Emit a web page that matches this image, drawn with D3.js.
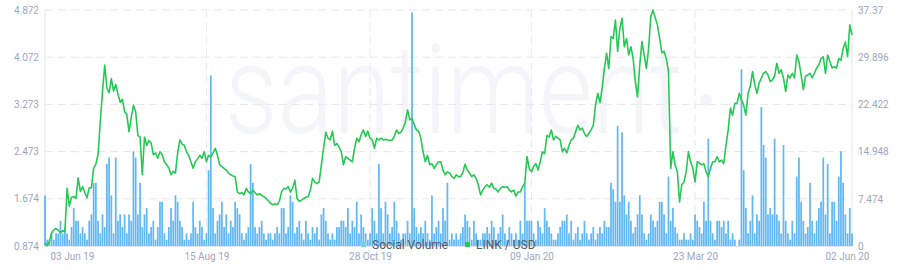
<!DOCTYPE html>
<html>
<head>
<meta charset="utf-8">
<script src="https://cdn.jsdelivr.net/npm/d3@7"></script>
<style>
  body { margin: 0; background: #fff; }
  svg { display: block; font-family: Roboto, "Open Sans", sans-serif; }
</style>
</head>
<body>
<div id="chart"></div>
<script>
// first day of both daily series
const startDate = '2019-06-03';

// LINK / USD, one value per day
const priceValues = [
  0.93,0.88,0.95,1.10,1.15,1.17,1.14,1.10,1.13,1.12,
  1.85,1.55,1.70,1.71,1.68,2.03,1.80,1.88,1.78,1.69,
  1.86,1.86,2.19,2.26,2.42,2.98,3.49,3.94,3.55,3.47,
  3.71,3.50,3.61,3.45,3.31,3.36,3.15,3.10,2.81,3.05,
  3.26,3.15,2.75,2.72,2.08,2.72,2.58,2.66,2.62,2.42,
  2.45,2.36,2.47,2.42,2.30,2.25,2.20,2.08,2.14,2.11,
  2.45,2.67,2.60,2.58,2.47,2.41,2.30,2.19,2.30,2.35,
  2.41,2.36,2.47,2.30,2.41,2.38,2.45,2.53,2.41,2.25,
  2.22,2.19,2.16,2.11,2.08,2.06,2.05,1.79,1.76,1.78,
  1.74,1.85,1.79,1.76,1.82,1.78,1.74,1.76,1.73,1.71,
  1.68,1.64,1.60,1.57,1.59,1.57,1.63,1.79,1.85,1.84,
  1.88,1.79,1.85,1.99,1.68,1.63,1.65,1.68,1.70,1.71,
  1.82,2.02,1.96,1.93,1.96,2.25,2.53,2.80,2.70,2.67,
  2.82,2.58,2.61,2.55,2.47,2.25,2.39,2.36,2.33,2.30,
  2.53,2.70,2.64,2.76,2.84,2.73,2.82,2.70,2.67,2.53,
  2.70,2.67,2.70,2.67,2.68,2.67,2.66,2.67,2.73,2.84,
  2.78,2.80,2.87,2.98,3.18,3.01,3.04,2.93,2.84,2.82,
  2.70,2.47,2.30,2.41,2.25,2.27,2.19,2.25,2.30,2.30,
  2.16,2.08,2.13,2.11,2.05,2.02,2.08,2.05,2.05,2.12,
  2.26,2.16,2.11,2.05,2.08,2.02,1.91,1.74,1.82,1.88,
  1.91,1.87,1.94,1.85,1.84,1.79,1.85,1.88,1.87,1.88,
  1.82,1.79,1.82,1.72,1.79,1.79,1.88,1.94,2.39,2.19,
  2.13,2.22,2.27,2.16,2.30,2.47,2.44,2.75,2.72,2.84,
  2.67,2.73,2.70,2.67,2.47,2.53,2.45,2.58,2.67,2.70,
  2.81,2.92,2.84,2.87,2.78,2.73,2.78,2.84,2.92,3.26,
  3.46,3.30,3.55,3.88,4.14,3.88,4.42,4.39,4.70,4.17,
  4.56,4.73,4.25,4.39,4.11,4.25,4.05,3.66,3.40,3.94,
  4.34,4.11,3.88,4.22,4.76,4.87,4.74,4.62,4.39,4.15,
  4.17,4.05,3.83,2.19,2.47,2.25,2.13,1.62,1.91,1.96,
  2.13,2.47,2.30,2.19,1.96,2.30,2.28,2.25,2.27,2.13,
  2.05,2.19,2.30,2.30,2.39,2.30,2.33,2.27,2.58,2.84,
  3.21,3.09,3.29,3.29,3.46,3.35,3.26,3.09,3.46,3.58,
  3.83,3.61,3.46,3.63,3.72,3.80,3.83,3.77,3.66,3.69,
  3.75,3.97,3.80,3.86,3.72,3.49,3.77,3.72,3.80,3.72,
  4.11,4.00,3.77,3.52,3.75,3.77,3.80,3.72,3.80,3.89,
  3.94,4.05,4.08,3.80,4.11,4.00,3.89,3.91,3.89,4.05,
  4.02,4.22,4.33,4.08,4.62,4.45
];

// Social Volume, one value per day
const volumeValues = [
  8,1,1,2,1,2,2,4,2,3,2,1,3,6,4,4,2,3,2,1,
  4,5,10,10,4,2,5,3,13,14,8,2,14,4,5,3,5,2,5,4,
  15,14,5,10,3,5,6,2,3,4,1,3,7,7,2,1,3,6,4,8,
  7,4,3,1,2,1,2,7,3,2,4,3,1,2,12,27,6,2,4,5,
  7,3,5,2,4,3,7,6,5,2,1,2,3,13,10,3,2,3,4,2,
  1,2,2,1,2,3,2,6,6,2,3,8,7,2,3,4,2,1,4,2,
  1,3,2,3,1,5,6,4,2,1,2,1,3,3,4,4,3,6,2,4,
  3,7,2,5,3,2,1,2,6,4,2,13,6,2,7,5,2,3,7,4,
  2,1,2,2,4,2,37,6,3,2,3,2,4,2,1,8,2,3,4,2,
  6,4,10,1,2,1,2,1,2,3,5,4,3,1,4,2,1,1,2,2,
  3,2,4,3,1,2,3,5,2,1,3,2,1,2,1,4,2,10,4,4,
  4,2,1,4,3,2,6,4,3,2,1,1,2,3,4,4,5,2,4,1,
  2,3,1,2,4,2,1,2,3,1,2,3,2,4,3,3,10,9,7,19,
  7,18,8,5,7,4,2,3,5,8,5,2,1,2,5,4,3,4,7,7,
  5,2,11,4,6,3,2,1,1,2,1,1,2,1,5,4,3,2,7,4,
  17,4,2,1,4,4,3,4,2,4,1,2,1,0,1,28,12,6,2,4,
  8,2,5,4,22,16,14,5,6,5,17,5,4,2,16,4,2,1,4,2,
  11,14,7,4,2,3,10,4,2,4,6,7,14,5,13,2,7,7,4,11,
  15,10,5,2,6,2
];

const xTickLabels = ['03 Jun 19', '15 Aug 19', '28 Oct 19', '09 Jan 20', '23 Mar 20', '02 Jun 20'];
const priceTicks = [4.872, 4.072, 3.273, 2.473, 1.674, 0.874];
const volumeTicks = [37.37, 29.896, 22.422, 14.948, 7.474, 0];
const seriesNames = ['Social Volume', 'LINK / USD'];

const W = 897, H = 270;
const margin = { top: 10, right: 45, bottom: 24, left: 45 };
const innerRight = W - margin.right;
const innerBottom = H - margin.bottom;

const parseDay = d3.utcParse('%Y-%m-%d');
const parseTick = d3.utcParse('%d %b %y');
const day0 = parseDay(startDate);
const dates = priceValues.map((_, i) => d3.utcDay.offset(day0, i));
const tickDates = xTickLabels.map(parseTick);

const svg = d3.select('#chart').append('svg')
  .attr('width', W)
  .attr('height', H);

const x = d3.scaleUtc()
  .domain([dates[0], dates[dates.length - 1]])
  .range([margin.left, innerRight]);
const yPrice = d3.scaleLinear()
  .domain([0.874, 4.872])
  .range([innerBottom, margin.top]);
const yVol = d3.scaleLinear()
  .domain([0, 37.37])
  .range([innerBottom, margin.top]);

// watermark
svg.append('text')
  .attr('x', 225)
  .attr('y', 133)
  .attr('font-size', 125)
  .attr('font-weight', 300)
  .attr('fill', '#f4f5f8')
  .attr('textLength', 458)
  .attr('lengthAdjust', 'spacingAndGlyphs')
  .text('santiment');
svg.append('circle')
  .attr('cx', 706).attr('cy', 100).attr('r', 6)
  .attr('fill', '#f4f5f8');

// grid
const grid = svg.append('g')
  .attr('stroke', '#e6e8ef')
  .attr('stroke-dasharray', '8,5');
grid.selectAll('.h').data(priceTicks.filter(t => t !== 0.874)).join('line')
  .attr('x1', margin.left).attr('x2', innerRight)
  .attr('y1', d => yPrice(d)).attr('y2', d => yPrice(d));
grid.selectAll('.v').data(tickDates.slice(1, -1)).join('line')
  .attr('x1', d => x(d)).attr('x2', d => x(d))
  .attr('y1', margin.top).attr('y2', innerBottom);

// frame lines
const frame = svg.append('g').attr('stroke', '#e3e6ee');
frame.append('line').attr('x1', margin.left).attr('x2', margin.left).attr('y1', margin.top).attr('y2', innerBottom);
frame.append('line').attr('x1', innerRight).attr('x2', innerRight).attr('y1', margin.top).attr('y2', innerBottom);
frame.append('line').attr('x1', margin.left).attr('x2', innerRight).attr('y1', innerBottom + 0.5).attr('y2', innerBottom + 0.5);

// Social Volume bars
const step = x(dates[1]) - x(dates[0]);
const bw = step * 0.8;
svg.append('g')
  .selectAll('rect')
  .data(volumeValues.map((v, i) => ({ date: dates[i], v })).filter(d => d.v > 0))
  .join('rect')
  .attr('x', d => x(d.date) - bw / 2)
  .attr('width', bw)
  .attr('y', d => yVol(d.v))
  .attr('height', d => innerBottom - yVol(d.v))
  .attr('fill', '#62b9f3');

// LINK / USD line
const line = d3.line()
  .x((d, i) => x(dates[i]))
  .y(d => yPrice(d));
svg.append('path')
  .datum(priceValues)
  .attr('fill', 'none')
  .attr('stroke', '#26c953')
  .attr('stroke-width', 1.6)
  .attr('stroke-linejoin', 'round')
  .attr('d', line);

// axes
const axisColor = '#9ea6bf';
const leftAxis = svg.append('g')
  .attr('transform', `translate(${margin.left},0)`)
  .call(d3.axisLeft(yPrice).tickValues(priceTicks).tickSize(0).tickPadding(6).tickFormat(d => String(d)));
const rightAxis = svg.append('g')
  .attr('transform', `translate(${innerRight},0)`)
  .call(d3.axisRight(yVol).tickValues(volumeTicks).tickSize(0).tickPadding(6).tickFormat(d => String(d)));
const bottomAxis = svg.append('g')
  .attr('transform', `translate(0,${innerBottom})`)
  .call(d3.axisBottom(x).tickValues(tickDates).tickSize(0).tickPadding(7).tickFormat((d, i) => xTickLabels[i]));

[leftAxis, rightAxis, bottomAxis].forEach(g => {
  g.select('.domain').remove();
  g.selectAll('text')
    .attr('fill', axisColor)
    .attr('font-size', 10)
    .attr('font-family', 'Roboto, "Open Sans", sans-serif');
});
bottomAxis.selectAll('text')
  .filter((d, i) => i === 0)
  .attr('text-anchor', 'start')
  .attr('dx', 5);
bottomAxis.selectAll('text')
  .filter((d, i) => i === xTickLabels.length - 1)
  .attr('text-anchor', 'end')
  .attr('dx', 17);

// legend
const legendColors = ['#6cd3f6', '#26c953'];
const legendX = [361, 465];
const legend = svg.append('g');
seriesNames.forEach((name, i) => {
  legend.append('rect')
    .attr('x', legendX[i]).attr('y', innerBottom - 4)
    .attr('width', 5).attr('height', 5)
    .attr('fill', legendColors[i]);
  legend.append('text')
    .attr('x', legendX[i] + 11).attr('y', innerBottom - 1.5)
    .attr('dy', '0.35em')
    .attr('font-size', 12)
    .attr('fill', '#555a66')
    .text(name);
});
</script>
</body>
</html>
